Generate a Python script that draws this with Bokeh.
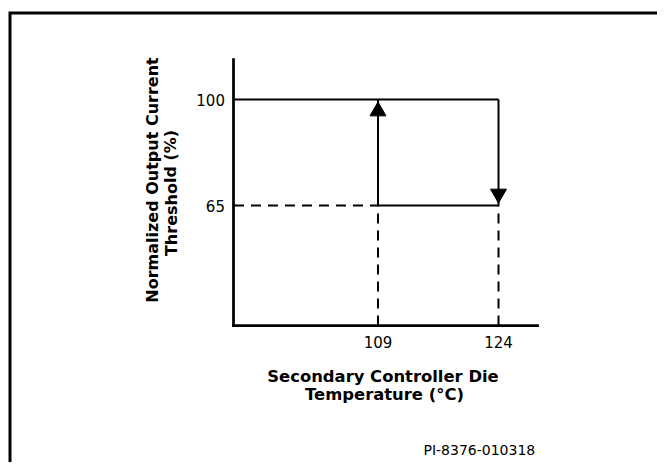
from bokeh.plotting import figure
from bokeh.models import Range1d, FixedTicker, Label
from bokeh.embed import file_html
from bokeh.resources import INLINE

# ---- data ----
temp_ticks = [109, 124]          # degC: shutdown / recovery temperatures
current_ticks = [100, 65]        # normalized output current threshold (%)
t_low, t_high = 109, 124
i_high, i_low = 100, 65
x_axis_span = (91.07, 128.86)    # drawn extent of the temperature axis
y_axis_span = (25.38, 113.21)    # drawn extent of the current axis

x_label_lines = ["Secondary Controller Die", "Temperature (\u00b0C)"]
y_label_lines = ["Normalized Output Current", "Threshold (%)"]
doc_id = "PI-8376-010318"

W, H = 657, 462
x_view = (62.01, 143.79)         # data span covered by the whole canvas
y_view = (-19.86, 132.69)

p = figure(width=W, height=H, output_backend="svg", toolbar_location=None,
           x_range=Range1d(*x_view), y_range=Range1d(*y_view),
           min_border=0, min_border_left=0, min_border_right=0,
           min_border_top=0, min_border_bottom=0)
p.grid.visible = False
p.outline_line_color = None
p.background_fill_color = "white"
p.border_fill_color = "white"

def px_x(px):
    return x_view[0] + px / W * (x_view[1] - x_view[0])

def px_y(py):
    return y_view[1] - py / H * (y_view[1] - y_view[0])

ppu_y = H / (y_view[1] - y_view[0])   # pixels per y unit

xa, ya = p.xaxis[0], p.yaxis[0]
xa.fixed_location = y_axis_span[0]
ya.fixed_location = x_axis_span[0]
xa.bounds = x_axis_span
ya.bounds = y_axis_span
for ax in (xa, ya):
    ax.axis_line_width = 2.75
    ax.axis_line_color = "black"
    ax.axis_line_cap = "square"
    ax.major_tick_line_color = None
    ax.minor_tick_line_color = None
    ax.major_tick_out = 0
    ax.major_tick_in = 0
    ax.minor_tick_out = 0
    ax.major_label_text_font = "DejaVu Sans"
    ax.major_label_text_font_size = "15px"
    ax.major_label_text_color = "black"
xa.ticker = FixedTicker(ticks=temp_ticks)
ya.ticker = FixedTicker(ticks=current_ticks)
xa.major_label_standoff = 11
ya.major_label_standoff = 9

x0, y0 = x_axis_span[0], y_axis_span[0]

# solid parts of the hysteresis loop (incl. the two vertical transitions)
p.segment(x0=[x0, t_low, t_low, t_high], y0=[i_high, i_low, i_low, i_high],
          x1=[t_high, t_high, t_low, t_high], y1=[i_high, i_low, i_high, i_low],
          line_color="black", line_width=2)
# dashed guide lines
p.segment(x0=[x0, t_low, t_high], y0=[i_low, y0, y0], x1=[t_low, t_low, t_high], y1=[i_low, i_low, i_low],
          line_color="black", line_width=2, line_dash="10 7")

# arrow heads: filled triangles whose tips stop just short of the target level
head = 16
tip_gap = 2.5
shift = (tip_gap + head * 0.5 * 3 ** 0.5 * 2 / 3) / ppu_y
p.scatter(x=[t_low], y=[i_high - shift], marker="triangle", size=head,
          fill_color="black", line_color="black", line_width=1)
p.scatter(x=[t_high], y=[i_low + shift], marker="inverted_triangle", size=head,
          fill_color="black", line_color="black", line_width=1)

# axis titles (screen units: pixels from the frame's bottom-left corner)
bold = dict(text_font="DejaVu Sans", text_font_style="bold", text_font_size="16.4px",
            text_color="black", x_units="screen", y_units="screen", text_align="center",
            text_baseline="alphabetic")
p.add_layout(Label(x=382.5, y=86, text=x_label_lines[0], **bold))
p.add_layout(Label(x=384, y=68, text=x_label_lines[1], **bold))
bold["text_font_size"] = "16px"
p.add_layout(Label(x=152, y=282.5, text=y_label_lines[0], angle=1.5708, **bold))
p.add_layout(Label(x=170.5, y=269.5, text=y_label_lines[1], angle=1.5708, **bold))

p.add_layout(Label(x=423, y=13, text=doc_id, x_units="screen", y_units="screen",
                   text_font="DejaVu Sans", text_font_size="14px", text_color="black",
                   text_baseline="alphabetic"))

# outer frame border (top and left edges; the rest falls outside the window)
p.line(x=[px_x(W + 5), px_x(9.5), px_x(9.5)], y=[px_y(12.5), px_y(12.5), px_y(H + 5)],
       line_color="black", line_width=3, line_join="miter")

open("out.html", "w").write(file_html(p, INLINE))
